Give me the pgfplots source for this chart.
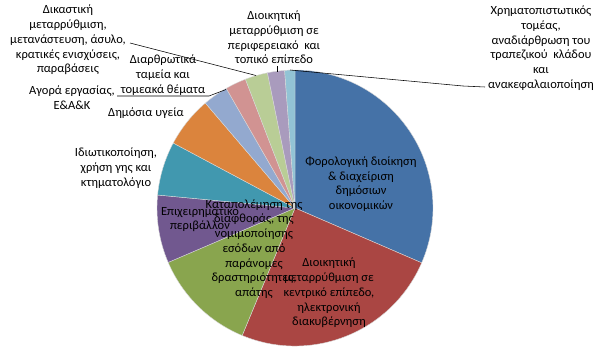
\documentclass[border=0pt]{standalone}
\usepackage{pgfplots}
\usepackage{pgfplotstable}
\pgfplotsset{compat=1.18}
\usepackage{fontspec}
\setmainfont{Carlito}

\definecolor{slicecolor0}{HTML}{4572A7}
\definecolor{slicecolor1}{HTML}{AA4643}
\definecolor{slicecolor2}{HTML}{89A54E}
\definecolor{slicecolor3}{HTML}{71588F}
\definecolor{slicecolor4}{HTML}{4198AF}
\definecolor{slicecolor5}{HTML}{DB843D}
\definecolor{slicecolor6}{HTML}{93A9CF}
\definecolor{slicecolor7}{HTML}{D19392}
\definecolor{slicecolor8}{HTML}{B9CD96}
\definecolor{slicecolor9}{HTML}{A99BBD}
\definecolor{slicecolor10}{HTML}{92C3D5}

\tikzset{lbl/.style={font=\fontsize{12.5}{14.7}\selectfont, align=center, text=black, inner sep=0pt}}

\pgfplotstableread{
v
31.5
24.75
12.3
7.95
6.3
5.95
2.95
2.45
2.65
2.0
1.2
}\piedata

\begin{document}
\begin{tikzpicture}
\xdef\cum{0}
\foreach \i in {0,...,10}{%
  \pgfplotstablegetelem{\i}{v}\of\piedata
  \let\val\pgfplotsretval
  \pgfmathsetmacro\s{90-3.6*\cum}%
  \pgfmathsetmacro\e{90-3.6*(\cum+\val)}%
  \expandafter\xdef\csname sa\i\endcsname{\s}%
  \expandafter\xdef\csname ea\i\endcsname{\e}%
  \pgfmathsetmacro\newcum{\cum+\val}%
  \xdef\cum{\newcum}%
}
\begin{axis}[
  scale only axis, width=599pt, height=360pt,
  xmin=0, xmax=599, ymin=0, ymax=360,
  hide axis, clip=false,
]
\coordinate (BL) at (axis cs:0,0);
\coordinate (TR) at (axis cs:599,360);
\pgfplotsinvokeforeach{0,...,10}{
  \fill[fill=slicecolor#1, draw=white!85!black, line width=0.4pt]
    (axis cs:295,152) -- ++(\csname sa#1\endcsname:138pt)
    arc[start angle=\csname sa#1\endcsname, end angle=\csname ea#1\endcsname, radius=138pt] -- cycle;
}
% leader lines
\draw[black, line width=0.55pt] (axis cs:130,317) -- (axis cs:256,284.5);
\draw[black, line width=0.55pt] (axis cs:117,264) -- (axis cs:209,264) -- (axis cs:226,270.5);
\draw[black, line width=0.55pt] (axis cs:277,294) -- (axis cs:277,288);
\draw[black, line width=0.55pt] (axis cs:290,290) -- (axis cs:463,274) -- (axis cs:485,273);
% labels
\node[lbl] at (axis cs:361,176) {Φορολογική διοίκηση\\\& διαχείριση\\δημόσιων\\οικονομικών};
\node[lbl] at (axis cs:329,67) {Διοικητική\\μεταρρύθμιση σε\\κεντρικό επίπεδο,\\ηλεκτρονική\\διακυβέρνηση};
\node[lbl] at (axis cs:254,111) {Καταπολέμηση της\\διαφθοράς, της\\νομιμοποίησης\\εσόδων από\\παράνομες\\δραστηριότητες,\\απάτης};
\node[lbl] at (axis cs:200,140.5) {Επιχειρηματικο\\περιβάλλον};
\node[lbl] at (axis cs:116,192) {Ιδιωτικοποίηση,\\χρήση γης και\\κτηματολόγιο};
\node[lbl] at (axis cs:146,247) {Δημόσια υγεία};
\node[lbl] at (axis cs:72,262.5) {Αγορά εργασίας,\\Ε\&Α\&Κ};
\node[lbl] at (axis cs:163,285) {Διαρθρωτικά\\ταμεία και\\τομεακά θέματα};
\node[lbl] at (axis cs:68,320) {Δικαστική\\μεταρρύθμιση,\\μετανάστευση, άσυλο,\\κρατικές ενισχύσεις,\\παραβάσεις};
\node[lbl] at (axis cs:274,322.5) {Διοικητική\\μεταρρύθμιση σε\\περιφερειακό\ \ και\\τοπικό επίπεδο};
\node[lbl] at (axis cs:541,312) {Χρηματοπιστωτικός\\τομέας,\\αναδιάρθρωση του\\τραπεζικού\ \ κλάδου\\και\\ανακεφαλαιοποίηση};
\end{axis}
\pgfresetboundingbox
\path (BL) rectangle (TR);
\end{tikzpicture}
\end{document}
